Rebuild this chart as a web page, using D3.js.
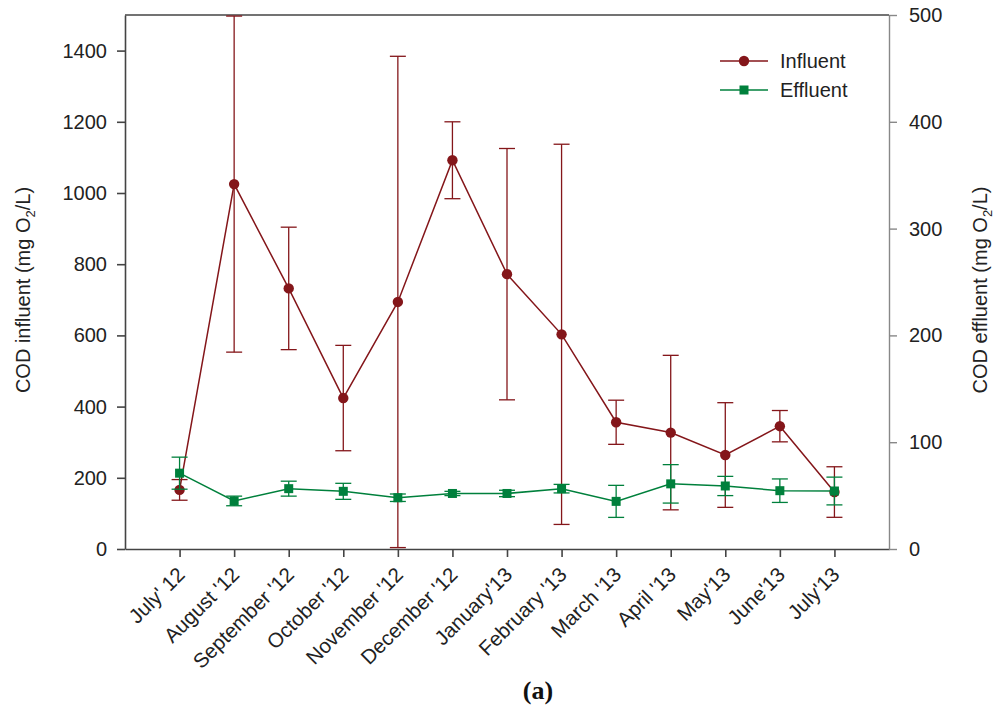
<!DOCTYPE html>
<html>
<head>
<meta charset="utf-8">
<script src="https://cdn.jsdelivr.net/npm/d3@7"></script>
<style>
    body { margin: 0; background: #fff; }
    svg { font-family: "Liberation Sans", Arial, sans-serif; }
</style>
</head>
<body>
<div id="chart"></div>
<script>
// monthly COD, mean and error
var months = ["July' 12", "August '12", "September '12", "October '12", "November '12", "December '12",
    "January'13", "February '13", "March '13", "April '13", "May'13", "June'13", "July'13"];
var influent = [166, 1025, 732, 424, 694, 1092, 772, 603, 356, 327, 264, 345, 160];
var influentErr = [29, 472, 172, 148, 690, 108, 353, 534, 62, 217, 147, 44, 71];
var effluent = [71, 45, 56.5, 54, 48, 52, 52, 56.5, 44.6, 61, 59, 54.6, 54.3];
var effluentErr = [15, 4.5, 7, 7.5, 3.5, 2, 3, 4, 15, 18, 9, 11, 13];
var leftTicks = [0, 200, 400, 600, 800, 1000, 1200, 1400];
var rightTicks = [0, 100, 200, 300, 400, 500];

var W = 994, H = 710;
var mLeft = 125, mRight = 889, mTop = 15, mBottom = 549;
var red = '#84161a', green = '#00803c';

var svg = d3.select('#chart').append('svg').attr('width', W).attr('height', H);

var x = d3.scalePoint().domain(months).range([mLeft, mRight]).padding(1);
var yL = d3.scaleLinear().domain([0, 1500]).range([mBottom, mTop]);
var yR = d3.scaleLinear().domain([0, 500]).range([mBottom, mTop]);

// axes
var gx = svg.append('g').attr('transform', 'translate(0,' + mBottom + ')')
    .call(d3.axisBottom(x).tickSize(8).tickSizeOuter(0));
gx.selectAll('text')
    .attr('x', 0).attr('y', 0).attr('dy', 0)
    .attr('transform', 'translate(6,27) rotate(-45)')
    .style('text-anchor', 'end')
    .style('font-size', '20.5px')
    .attr('fill', '#222');

var gl = svg.append('g').attr('transform', 'translate(' + mLeft + ',0)')
    .call(d3.axisLeft(yL).tickValues(leftTicks).tickFormat(d3.format('d'))
        .tickSize(8).tickPadding(10).tickSizeOuter(0));
gl.selectAll('text').style('font-size', '20px').attr('fill', '#222');

var gr = svg.append('g').attr('transform', 'translate(' + mRight + ',0)')
    .call(d3.axisRight(yR).tickValues(rightTicks).tickFormat(d3.format('d'))
        .tickSize(8).tickPadding(12).tickSizeOuter(0));
gr.selectAll('text').style('font-size', '20px').attr('fill', '#222');
gr.selectAll('path, line').attr('stroke', '#888');

[gx, gl].forEach(function (g) {
    g.selectAll('path, line').attr('stroke', '#444').attr('stroke-width', 1.6);
});
gr.selectAll('path, line').attr('stroke-width', 1.4);

svg.append('line')
    .attr('x1', mLeft).attr('x2', mRight).attr('y1', mTop).attr('y2', mTop)
    .attr('stroke', '#444').attr('stroke-width', 1.6);

// axis titles
function title(tx, ty, word) {
    var t = svg.append('text')
        .attr('transform', 'translate(' + tx + ',' + ty + ') rotate(-90)')
        .attr('text-anchor', 'middle')
        .style('font-size', '20px').attr('fill', '#222');
    t.append('tspan').text('COD ' + word + ' (mg O');
    t.append('tspan').text('2').style('font-size', '13px').attr('dy', 5);
    t.append('tspan').text('/L)').attr('dy', -5);
}
title(30, 290, 'influent');
title(987, 290, 'effluent');

// series
function series(vals, errs, y, color, shape) {
    var g = svg.append('g');
    var pts = vals.map(function (v, i) { return { m: months[i], v: v, e: errs[i] }; });

    g.append('path').datum(pts)
        .attr('fill', 'none').attr('stroke', color).attr('stroke-width', 1.5)
        .attr('d', d3.line().x(function (d) { return x(d.m); }).y(function (d) { return y(d.v); }));

    var eb = g.selectAll('.eb').data(pts).enter().append('g')
        .attr('stroke', color).attr('stroke-width', 1.3);
    eb.append('line')
        .attr('x1', function (d) { return x(d.m); }).attr('x2', function (d) { return x(d.m); })
        .attr('y1', function (d) { return y(d.v + d.e); }).attr('y2', function (d) { return y(d.v - d.e); });
    eb.append('line')
        .attr('x1', function (d) { return x(d.m) - 8; }).attr('x2', function (d) { return x(d.m) + 8; })
        .attr('y1', function (d) { return y(d.v + d.e); }).attr('y2', function (d) { return y(d.v + d.e); });
    eb.append('line')
        .attr('x1', function (d) { return x(d.m) - 8; }).attr('x2', function (d) { return x(d.m) + 8; })
        .attr('y1', function (d) { return y(d.v - d.e); }).attr('y2', function (d) { return y(d.v - d.e); });

    if (shape == 'circle') {
        g.selectAll('circle').data(pts).enter().append('circle')
            .attr('cx', function (d) { return x(d.m); }).attr('cy', function (d) { return y(d.v); })
            .attr('r', 5.2).attr('fill', color);
    } else {
        g.selectAll('rect').data(pts).enter().append('rect')
            .attr('x', function (d) { return x(d.m) - 4.5; }).attr('y', function (d) { return y(d.v) - 4.5; })
            .attr('width', 9).attr('height', 9).attr('fill', color);
    }
}
series(influent, influentErr, yL, red, 'circle');
series(effluent, effluentErr, yR, green, 'square');

// legend
var legend = [{ name: 'Influent', color: red, shape: 'circle', y: 61 },
              { name: 'Effluent', color: green, shape: 'square', y: 90 }];
legend.forEach(function (l) {
    svg.append('line').attr('x1', 720).attr('x2', 768).attr('y1', l.y).attr('y2', l.y)
        .attr('stroke', l.color).attr('stroke-width', 1.5);
    if (l.shape == 'circle') {
        svg.append('circle').attr('cx', 744).attr('cy', l.y).attr('r', 5.2).attr('fill', l.color);
    } else {
        svg.append('rect').attr('x', 739.5).attr('y', l.y - 4.5).attr('width', 9).attr('height', 9).attr('fill', l.color);
    }
    svg.append('text').attr('x', 780).attr('y', l.y + 7)
        .style('font-size', '20px').attr('fill', '#222').text(l.name);
});

// panel label
svg.append('text').attr('x', 538).attr('y', 699).attr('text-anchor', 'middle')
    .style('font-family', '"Liberation Serif", "Times New Roman", serif')
    .style('font-weight', 'bold').style('font-size', '26px').attr('fill', '#111')
    .text('(a)');
</script>
</body>
</html>
